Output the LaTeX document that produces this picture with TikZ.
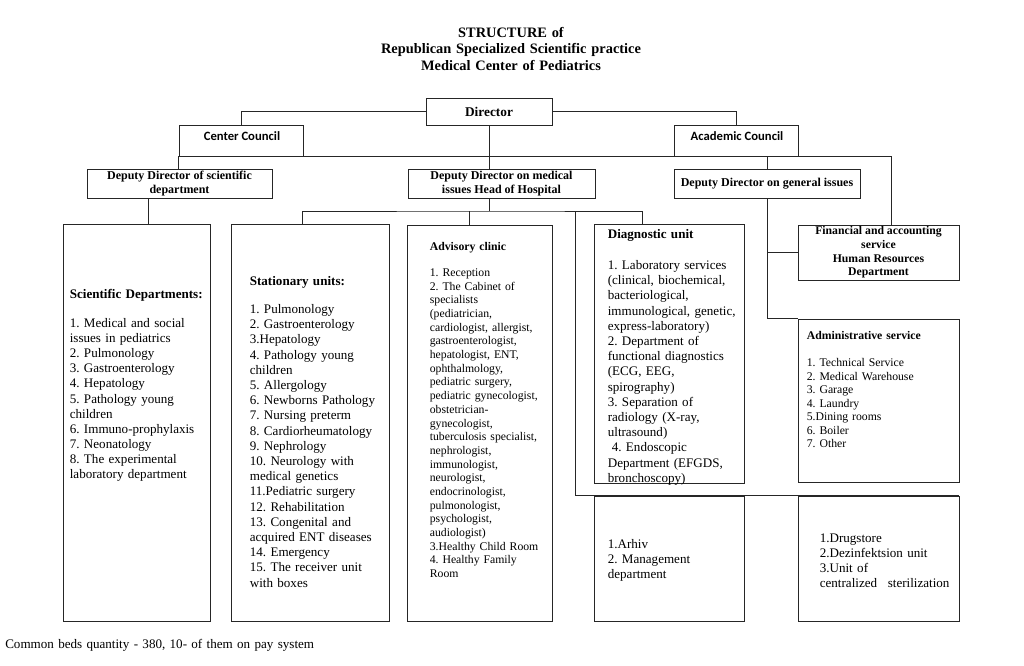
\documentclass[tikz,border=0pt]{standalone}
\usepackage{fontspec}
\setmainfont{Liberation Serif}
\newfontfamily\calibrifont{Carlito}
\usetikzlibrary{fit,calc}
\frenchspacing
\begin{document}
\begin{tikzpicture}[x=0.75pt,y=-0.75pt,
  box/.style={draw=black!85, line width=0.65pt, inner sep=0pt},
  conn/.style={draw=black!85, line width=0.65pt},
  headtxt/.style={inner sep=0pt, font=\bfseries\fontsize{9}{10.5}\selectfont, align=center},
  cnltxt/.style={font=\calibrifont\bfseries\fontsize{9.5}{11}\selectfont, anchor=base, inner sep=0pt},
  bodyA/.style={inner sep=0pt, anchor=base west, text width=160pt, align=left, font=\fontsize{9.8}{11.4}\selectfont},
  bodyB/.style={inner sep=0pt, anchor=base west, text width=160pt, align=left, font=\fontsize{8.8}{10.26}\selectfont},
]
\fill[white] (0,0) rectangle (1024,665);
\useasboundingbox (0,0) rectangle (1024,665);

% title
\node[inner sep=0pt, anchor=base, text width=320pt, align=center,
      font=\bfseries\fontsize{10.8}{12.4}\selectfont] (title) at (511,37)
  {STRUCTURE of\\Republican Specialized Scientific practice\\Medical Center of Pediatrics};

% top level
\node[box, fit={(426,98)(552,125)}] (dir) {};
\node[inner sep=0pt, font=\bfseries\fontsize{10}{12}\selectfont] (dirt) at (dir.center) {Director};
\node[box, fit={(179,125)(303,156)}] (cc) {};
\node[cnltxt] (cct) at ($(cc.north)+(1,16)$) {Center Council};
\node[box, fit={(674,125)(798,156)}] (ac) {};
\node[cnltxt] (act) at ($(ac.north)+(1,16)$) {Academic Council};

% deputies
\node[box, fit={(87,169)(272,198)}] (ddsci) {};
\node[headtxt] (ddscit) at (ddsci.center) {Deputy Director of scientific\\department};
\node[box, fit={(408,169)(595,198)}] (ddm) {};
\node[headtxt] (ddmt) at (ddm.center) {Deputy Director on medical\\issues Head of Hospital};
\node[box, fit={(674,169)(860,198)}] (ddg) {};
\node[headtxt] (ddgt) at (ddg.center) {Deputy Director on general issues};

% big boxes
\node[box, fit={(63,224)(210,621)}] (sci) {};
\node[box, fit={(231,224)(389,621)}] (stat) {};
\node[box, fit={(407,225)(552,621)}] (adv) {};
\node[box, fit={(594,224)(744,483)}] (diag) {};
\node[box, fit={(798,225)(959,280)}] (fin) {};
\node[inner sep=0pt, font=\bfseries\fontsize{8.8}{10.26}\selectfont, align=center] (fint) at (fin.center)
  {Financial and accounting\\service\\Human Resources\\Department};
\node[box, fit={(798,319)(959,482)}] (adm) {};
\node[box, fit={(594,496)(744,621)}] (arh) {};
\node[box, fit={(798,496)(959,621)}] (drg) {};

% texts
\node[bodyA, font=\fontsize{9.8}{11.33}\selectfont] (scit) at ($(sci.north west)+(7,75)$) {\textbf{Scientific Departments:}\\[10.4pt]
1. Medical and social\\
issues in pediatrics\\
2. Pulmonology\\
3. Gastroenterology\\
4. Hepatology\\
5. Pathology young\\
children\\
6. Immuno-prophylaxis\\
7. Neonatology\\
8. The experimental\\
laboratory department};

\node[bodyA] (statt) at ($(stat.north west)+(19,62)$) {\textbf{Stationary units:}\\[9.6pt]
1. Pulmonology\\
2. Gastroenterology\\
3.Hepatology\\
4. Pathology young\\
children\\
5. Allergology\\
6. Newborns Pathology\\
7. Nursing preterm\\
8. Cardiorheumatology\\
9. Nephrology\\
10. Neurology with\\
medical genetics\\
11.Pediatric surgery\\
12. Rehabilitation\\
13. Congenital and\\
acquired ENT diseases\\
14. Emergency\\
15. The receiver unit\\
with boxes};

\node[bodyB] (advt) at ($(adv.north west)+(23,26)$) {\textbf{Advisory clinic}\\[9.2pt]
1. Reception\\
2. The Cabinet of\\
specialists\\
(pediatrician,\\
cardiologist, allergist,\\
gastroenterologist,\\
hepatologist, ENT,\\
ophthalmology,\\
pediatric surgery,\\
pediatric gynecologist,\\
obstetrician-\\
gynecologist,\\
tuberculosis specialist,\\
nephrologist,\\
immunologist,\\
neurologist,\\
endocrinologist,\\
pulmonologist,\\
psychologist,\\
audiologist)\\
3.Healthy Child Room\\
4. Healthy Family\\
Room};

\node[bodyA] (diagt) at ($(diag.north west)+(14,15)$) {\textbf{Diagnostic unit}\\[11.85pt]
1. Laboratory services\\
(clinical, biochemical,\\
bacteriological,\\
immunological, genetic,\\
express-laboratory)\\
2. Department of\\
functional diagnostics\\
(ECG, EEG,\\
spirography)\\
3. Separation of\\
radiology (X-ray,\\
ultrasound)\\
\hspace*{3pt}4. Endoscopic\\
Department (EFGDS,\\
bronchoscopy)};

\node[bodyB, font=\fontsize{8.8}{10.12}\selectfont] (admt) at ($(adm.north west)+(9,21)$) {\textbf{Administrative service}\\[10.15pt]
1. Technical Service\\
2. Medical Warehouse\\
3. Garage\\
4. Laundry\\
5.Dining rooms\\
6. Boiler\\
7. Other};

\node[bodyA, font=\fontsize{9.8}{11.25}\selectfont] (arht) at ($(arh.north west)+(14,53)$) {1.Arhiv\\
2. Management\\
department};

\node[bodyA, font=\fontsize{9.8}{11.25}\selectfont] (drgt) at ($(drg.north west)+(22,47)$) {1.Drugstore\\
2.Dezinfektsion unit\\
3.Unit of\\
centralized\hspace{8pt}sterilization};

\node[bodyA, text width=300pt] (foot) at (5,648) {Common beds quantity - 380, 10- of them on pay system};

% connectors
\coordinate (bus) at (489,211);
\draw[conn] (dir.west) -| (cc.north);
\draw[conn] (dir.east) -| (ac.north);
\draw[conn] (dir.south) -- (dir.south |- ddm.north);
\draw[conn] (cc.south west) -| ($(fin.north)+(12.5,0)$);
\draw[conn] (cc.south west) -- (cc.south west |- ddsci.north);
\draw[conn] (ddg.north) -- (ddg.north |- cc.south);
\coordinate (tapSci) at ($(ddsci.south)+(-31.5,0)$);
\draw[conn] (tapSci) -- (tapSci |- sci.north);
\draw[conn] (dir.south |- ddm.south) -- (bus);
\coordinate (tapSt) at ($(stat.north west)+(72,0)$);
\coordinate (tapDg) at ($(diag.north west)+(49,0)$);
\draw[conn] (tapSt) |- (bus) -| (tapDg);
\coordinate (tapAd) at ($(adv.north west)+(63,0)$);
\draw[conn] (tapAd) -- (tapAd |- bus);
\coordinate (brk) at ($(arh.north west)+(-18,0)$);
\draw[conn] (brk |- bus) -- (brk) -- (drg.north east);
\draw[conn] (ddg.south) |- (adm.north west);
\draw[conn] (fin.west) -- (fin.west -| ddg.south);
\end{tikzpicture}
\end{document}
